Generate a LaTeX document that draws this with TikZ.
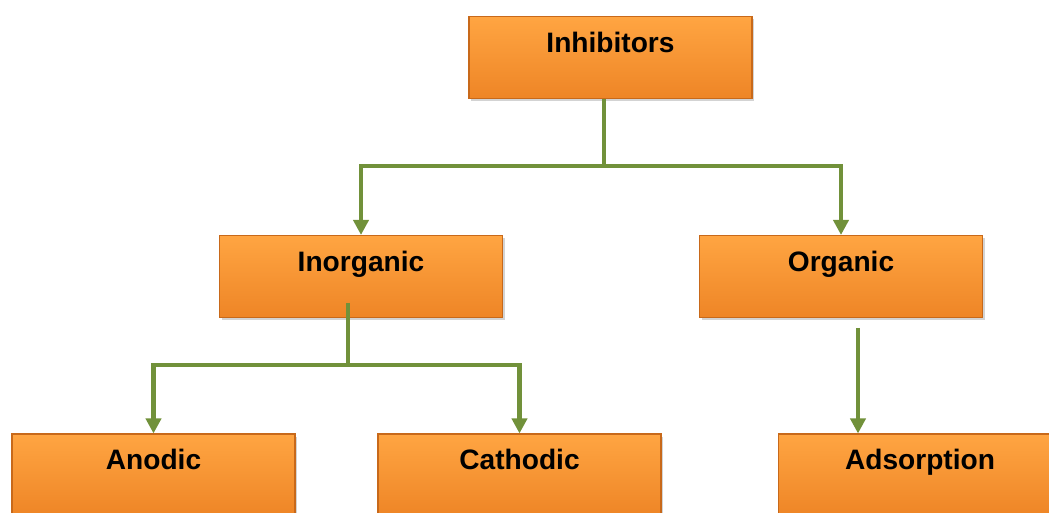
\documentclass[tikz,border=0pt]{standalone}
\usepackage{fontspec}
\setmainfont{Liberation Sans}
\usetikzlibrary{arrows.meta, positioning, shadows, calc}
\definecolor{boxtop}{HTML}{FFA542}
\definecolor{boxbot}{HTML}{EE8526}
\definecolor{boxline}{HTML}{C8691A}
\definecolor{linkgreen}{HTML}{71913A}

\begin{document}
\begin{tikzpicture}[
  box/.style={rectangle,draw=boxline,line width=0.6pt,top color=boxtop,bottom color=boxbot, minimum width=5.66cm,inner sep=0pt,text height=0.72cm,text depth=0.92cm, align=center,font=\fontsize{16}{19}\selectfont\bfseries, drop shadow={opacity=0.35,shadow xshift=0.04cm,shadow yshift=-0.06cm}},
  link/.style={draw=linkgreen,line width=2.4pt},
  arr/.style={link,-{Triangle[width=0.3cm,length=0.3cm]}}
]
  \useasboundingbox (0,0) rectangle (20.98,-10.26);
  \clip (0,0) rectangle (20.98,-10.26);
  \node[box](inh)   at (12.21,-1.15){Inhibitors};
  \node[box](inorg) at (7.22,-5.53) {Inorganic};
  \node[box](org)   at (16.82,-5.53){Organic};
  \node[box](ano)   at (3.07,-9.50) {Anodic};
  \node[box](cat)   at (10.39,-9.50){Cathodic};
  \node[box](ads)   at (18.40,-9.50){Adsorption};
  \coordinate (j1) at (12.08,-3.32);
  \coordinate (s2) at (6.96,-6.06);
  \coordinate (j2) at (6.96,-7.30);
  \coordinate (s3) at (17.16,-6.56);
  \draw[link](inh.south -| j1)--(j1);
  \draw[arr](j1) -| (inorg.north);
  \draw[arr](j1) -| (org.north);
  \draw[link](s2)--(j2);
  \draw[arr](j2) -| (ano.north);
  \draw[arr](j2) -| (cat.north);
  \draw[arr](s3)--(s3 |- ads.north);
\end{tikzpicture}
\end{document}
